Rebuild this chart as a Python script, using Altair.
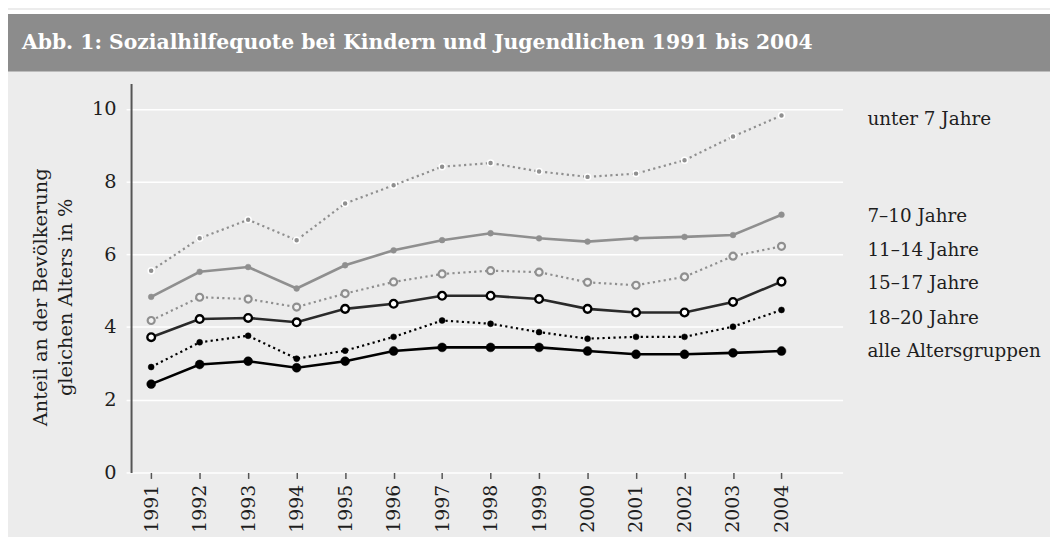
import altair as alt
import pandas as pd

years = list(range(1991, 2005))

series_names = ["unter 7 Jahre", "7–10 Jahre", "11–14 Jahre", "15–17 Jahre", "18–20 Jahre", "alle Altersgruppen"]

unter7 = [5.55, 6.44, 6.95, 6.39, 7.40, 7.90, 8.41, 8.51, 8.28, 8.13, 8.22, 8.59, 9.24, 9.82]
j7_10 = [4.83, 5.52, 5.65, 5.06, 5.70, 6.11, 6.39, 6.58, 6.44, 6.35, 6.44, 6.48, 6.53, 7.09]
j11_14 = [4.18, 4.82, 4.77, 4.55, 4.92, 5.24, 5.46, 5.55, 5.51, 5.23, 5.15, 5.38, 5.95, 6.22]
j15_17 = [3.72, 4.22, 4.25, 4.13, 4.50, 4.64, 4.86, 4.86, 4.77, 4.50, 4.40, 4.40, 4.69, 5.25]
j18_20 = [2.90, 3.58, 3.76, 3.13, 3.35, 3.73, 4.18, 4.09, 3.86, 3.68, 3.73, 3.73, 4.01, 4.47]
alle = [2.43, 2.97, 3.06, 2.88, 3.06, 3.34, 3.44, 3.44, 3.44, 3.34, 3.25, 3.25, 3.29, 3.34]

# label anchor values (data units) for the right-hand series labels
label_values = [9.71, 7.04, 6.11, 5.21, 4.26, 3.34]

y_ticks = [0, 2, 4, 6, 8, 10]

title_text = "Abb. 1: Sozialhilfequote bei Kindern und Jugendlichen 1991 bis 2004"
y_title = ["Anteil an der Bevölkerung", "gleichen Alters in %"]

values = [unter7, j7_10, j11_14, j15_17, j18_20, alle]

FONT = "DejaVu Serif"
FS = 19.5
GRAY = "#8f8f8f"
BG = "#ececec"
TXT = "#1e1e1e"

styles = {
    "unter 7 Jahre": dict(line=GRAY, width=2.2, dash=[2.2, 3.3], fill=GRAY, stroke="white", sw=1.5, size=36),
    "7–10 Jahre": dict(line=GRAY, width=2.6, dash=None, fill=GRAY, stroke=GRAY, sw=0.5, size=34),
    "11–14 Jahre": dict(line=GRAY, width=2.2, dash=[2.2, 3.3], fill="#f2f2f2", stroke=GRAY, sw=2.2, size=50),
    "15–17 Jahre": dict(line="#2a2a2a", width=2.6, dash=None, fill="white", stroke="black", sw=2.4, size=60),
    "18–20 Jahre": dict(line="black", width=2.2, dash=[2.2, 3.3], fill="black", stroke="black", sw=0.5, size=36),
    "alle Altersgruppen": dict(line="black", width=2.6, dash=None, fill="black", stroke="black", sw=0.5, size=80),
}

rows = []
for name, vals in zip(series_names, values):
    for yr, v in zip(years, vals):
        rows.append({"series": name, "year": yr, "value": v})
df = pd.DataFrame(rows)

labels_df = pd.DataFrame({"series": series_names, "pos": label_values})

PAD_L, PAD_T, PAD_R, PAD_B = 124, 74, 209, 63
W, H = 717, 392

x_scale = alt.Scale(domain=[1990.585, 2005.26], nice=False, zero=False)
y_scale = alt.Scale(domain=[0, 10.7], nice=False, zero=True)

x_enc = alt.X("year:Q", scale=x_scale,
              axis=alt.Axis(values=years, format="d", title=None, labelAngle=270,
                            labelFontSize=FS - 0.5, labelFont=FONT, labelColor=TXT,
                            labelPadding=6, domain=False, grid=False,
                            tickColor="#555555", tickWidth=1.5, tickSize=6))
y_enc = alt.Y("value:Q", scale=y_scale,
              axis=alt.Axis(values=y_ticks, format="d",
                            title=y_title,
                            titleFont=FONT, titleFontSize=FS, titleFontWeight="normal",
                            titleColor=TXT, titlePadding=16, titleY=215, titleLineHeight=25,
                            labelFontSize=FS, labelFont=FONT, labelColor=TXT, labelPadding=10,
                            domainColor="#555555", domainWidth=2,
                            tickColor="white", tickSize=5, tickWidth=1.5,
                            grid=True, gridColor="white", gridWidth=1.5))

one = pd.DataFrame({"t": [title_text]})
white_strip = alt.Chart(one).mark_rect(color="white").encode(
    x=alt.value(-PAD_L), x2=alt.value(W + PAD_R), y=alt.value(-PAD_T), y2=alt.value(-70))
header = alt.Chart(one).mark_rect(color="#8c8c8c").encode(
    x=alt.value(-PAD_L), x2=alt.value(W + PAD_R), y=alt.value(-70), y2=alt.value(-12))
title = alt.Chart(one).mark_text(align="left", baseline="alphabetic", font=FONT, fontSize=20.5,
                                 fontWeight="bold", color="white").encode(
    x=alt.value(-110), y=alt.value(-35), text="t:N")

layers = [white_strip, header, title]
first = True
for name in series_names:
    s = styles[name]
    base = alt.Chart(df).transform_filter(alt.datum.series == name)
    line_kwargs = dict(color=s["line"], strokeWidth=s["width"])
    if s["dash"]:
        line_kwargs["strokeDash"] = s["dash"]
    line = base.mark_line(**line_kwargs).encode(
        x=x_enc if first else alt.X("year:Q", scale=x_scale),
        y=y_enc if first else alt.Y("value:Q", scale=y_scale))
    first = False
    pts = base.mark_point(filled=True, fill=s["fill"], stroke=s["stroke"], strokeWidth=s["sw"],
                          size=s["size"], opacity=1, fillOpacity=1, shape="circle").encode(
        x=alt.X("year:Q", scale=x_scale), y=alt.Y("value:Q", scale=y_scale))
    layers += [line, pts]

labels = alt.Chart(labels_df).mark_text(align="left", baseline="middle", font=FONT,
                                        fontSize=18.5, color=TXT).encode(
    x=alt.value(W + 25), y=alt.Y("pos:Q", scale=y_scale), text="series:N")
layers.append(labels)

chart = alt.layer(*layers).properties(
    width=W, height=H,
    autosize=alt.AutoSizeParams(type="none"),
    padding={"left": PAD_L, "top": PAD_T, "right": PAD_R, "bottom": PAD_B},
    background=BG,
).configure_view(stroke=None)

chart.save("out.html", embed_options={"renderer": "svg", "actions": False})
